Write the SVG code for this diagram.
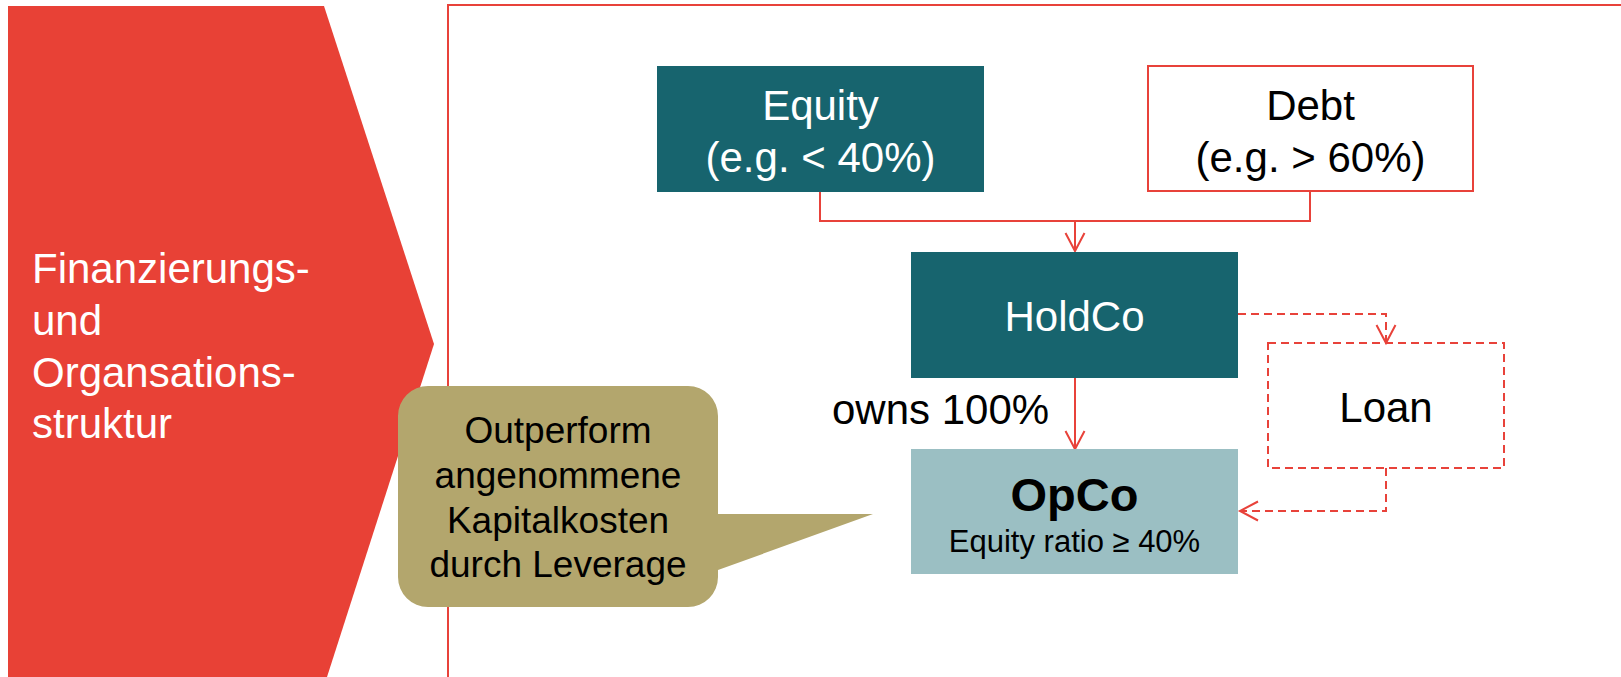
<svg xmlns="http://www.w3.org/2000/svg" width="1621" height="677" viewBox="0 0 1621 677">
  <style>
    text { font-family: "Liberation Sans", Arial, sans-serif; }
    .big { font-size: 42px; }
    .white { fill: #FFFFFF; }
    .black { fill: #000000; }
    .teal { fill: #17646E; }
    .conn { fill: none; stroke: #E8423A; stroke-width: 2; }
    .dash { stroke-dasharray: 8 5; }
    .call { font-size: 37px; }
  </style>
  <defs>
    <marker id="arr" markerUnits="userSpaceOnUse" markerWidth="24" markerHeight="24" viewBox="0 0 24 24" refX="21" refY="12" orient="auto">
      <path d="M3,2.5 L21,12 L3,21.5" fill="none" stroke="#E8423A" stroke-width="2"/>
    </marker>
  </defs>
  <rect width="1621" height="677" fill="#FFFFFF"/>

  <g id="chevron">
    <polygon points="8,6 324,6 434,344 327,677 8,677" fill="#E84136"/>
    <text class="big white" x="32" y="283">Finanzierungs-</text>
    <text class="big white" x="32" y="335">und</text>
    <text class="big white" x="32" y="387">Organsations-</text>
    <text class="big white" x="32" y="438">struktur</text>
  </g>

  <g id="frame">
    <rect x="448" y="5" width="1200" height="674" fill="none" stroke="#E8423A" stroke-width="2"/>
  </g>

  <g id="connectors">
    <path class="conn" d="M820,192 V221 H1310 V191"/>
    <path class="conn" d="M1075,221 V251" marker-end="url(#arr)"/>
    <path class="conn" d="M1075,378 V449" marker-end="url(#arr)"/>
    <path class="conn dash" d="M1238,314 H1386 V343" marker-end="url(#arr)"/>
    <path class="conn dash" d="M1386,468 V511 H1240" marker-end="url(#arr)"/>
  </g>

  <g id="equity">
    <rect x="657" y="66" width="327" height="126" class="teal"/>
    <text class="big white" x="820.5" y="120" text-anchor="middle">Equity</text>
    <text class="big white" x="820.5" y="172" text-anchor="middle">(e.g. &lt; 40%)</text>
  </g>

  <g id="debt">
    <rect x="1148" y="66" width="325" height="125" fill="#FFFFFF" stroke="#E8423A" stroke-width="2"/>
    <text class="big black" x="1310.5" y="120" text-anchor="middle">Debt</text>
    <text class="big black" x="1310.5" y="172" text-anchor="middle">(e.g. &gt; 60%)</text>
  </g>

  <g id="holdco">
    <rect x="911" y="252" width="327" height="126" class="teal"/>
    <text class="big white" x="1074.5" y="331" text-anchor="middle">HoldCo</text>
  </g>

  <g id="owns-label">
    <text class="big black" x="832" y="424">owns 100%</text>
  </g>

  <g id="opco">
    <rect x="911" y="449" width="327" height="125" fill="#9BBFC3"/>
    <text class="black" x="1074.5" y="511" text-anchor="middle" font-size="47" font-weight="bold">OpCo</text>
    <text class="black" x="1074.5" y="552" text-anchor="middle" font-size="31">Equity ratio ≥ 40%</text>
  </g>

  <g id="loan">
    <rect x="1268" y="343" width="236" height="125" class="conn dash" fill="#FFFFFF"/>
    <text class="big black" x="1386" y="422" text-anchor="middle">Loan</text>
  </g>

  <g id="callout">
    <path d="M428,386 H688 A30,30 0 0 1 718,416 V514 L873,514 L718,570 V577 A30,30 0 0 1 688,607 H428 A30,30 0 0 1 398,577 V416 A30,30 0 0 1 428,386 Z" fill="#B3A66D"/>
    <text class="black call" x="558" y="443" text-anchor="middle">Outperform</text>
    <text class="black call" x="558" y="488" text-anchor="middle">angenommene</text>
    <text class="black call" x="558" y="533" text-anchor="middle">Kapitalkosten</text>
    <text class="black call" x="558" y="577" text-anchor="middle">durch Leverage</text>
  </g>
</svg>
